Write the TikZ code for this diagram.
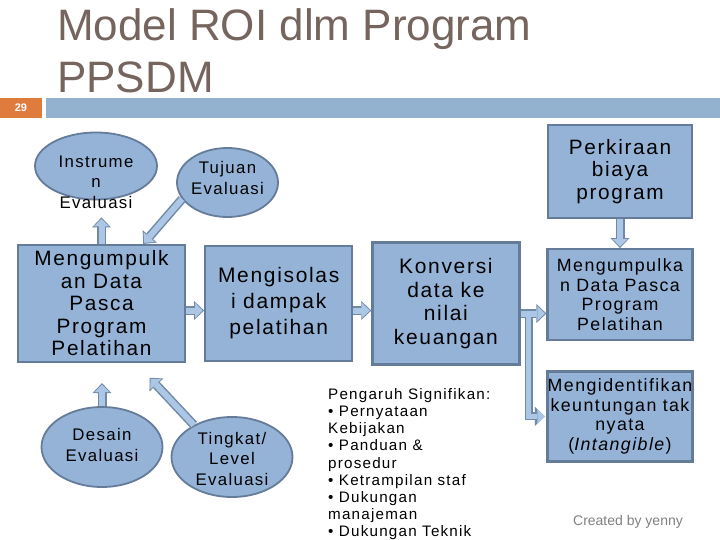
\documentclass[tikz,border=0pt]{standalone}
\usepackage{fontspec}
\setmainfont{Liberation Sans}
\newfontfamily\spacedsans[LetterSpace=8]{Liberation Sans}
\usepackage{xcolor}
\usepackage{tikz}
\usetikzlibrary{positioning,arrows.meta,shapes.geometric,calc}
\definecolor{titlegray}{RGB}{117,101,94}
\definecolor{slideorange}{RGB}{224,123,62}
\definecolor{barblue}{RGB}{147,178,207}
\definecolor{roifill}{RGB}{149,179,215}
\definecolor{roiline}{RGB}{100,124,154}
\definecolor{arrfill}{RGB}{172,199,230}
\definecolor{arrline}{RGB}{112,137,165}
\tikzset{
  box/.style={draw=roiline, line width=2.2pt, fill=roifill, align=center, inner sep=0pt, font=\spacedsans\fontsize{20.8}{22.5}\selectfont},
  smallbox/.style={box, font=\spacedsans\fontsize{17.8}{19.8}\selectfont},
  oval/.style={ellipse, draw=roiline, line width=1.8pt, fill=roifill, inner sep=0pt},
  ovaltext/.style={align=center, font=\spacedsans\fontsize{16.8}{20.5}\selectfont},
  blockarr/.style={preaction={draw=arrline, line width=9pt, -{Triangle[length=10pt, width=19pt, line width=0pt]}, shorten >=#1}, draw=arrfill, line width=6pt, -{Triangle[length=7.6pt, width=15pt, line width=0pt]}, shorten >=#1+1.5pt},
  blockarr/.default=0pt,
  elbow/.style={preaction={draw=arrline, line width=8pt, -{Triangle[length=10pt, width=19pt, line width=0pt]}}, draw=arrfill, line width=5pt, -{Triangle[length=7.6pt, width=15pt, line width=0pt]}, shorten >=1.5pt},
}
\begin{document}
\begin{tikzpicture}[x=1pt, y=-1pt]
    \useasboundingbox (0,0) rectangle (720,540);
    \clip (0,0) rectangle (720,540);
    \node[anchor=north west, align=left, inner sep=0pt, text=titlegray, font=\fontsize{44}{52}\selectfont] (title) at (57,8) {Model ROI dlm Program\\PPSDM};
    \node[fill=slideorange, minimum width=42pt, minimum height=20pt, inner sep=0pt, text=white, font=\bfseries\fontsize{11}{13}\selectfont] (pagenum) at (21,108) {29};
    \fill[barblue] (46,98) rectangle (720,118);

    \node[box, minimum width=167pt, minimum height=117pt] (mengumpul) at (101.5,303.5)
      {Mengumpulk\\an Data\\Pasca\\Program\\Pelatihan};
    \node[box, minimum width=147pt, minimum height=115pt, right=18pt of mengumpul, font=\spacedsans\fontsize{21}{26}\selectfont] (isolasi)
      {Mengisolas\\i dampak\\pelatihan};
    \node[box, minimum width=147pt, minimum height=122pt, right=18pt of isolasi, font=\spacedsans\fontsize{21}{23.5}\selectfont] (konversi)
      {Konversi\\data ke\\nilai\\keuangan};
    \node[box, minimum width=144pt, minimum height=93pt] (biaya) at (620,171.5)
      {Perkiraan\\biaya\\program};
    \node[smallbox, minimum width=145pt, minimum height=91pt, below=29pt of biaya] (kumpul2)
      {Mengumpulka\\n Data Pasca\\Program\\Pelatihan};
    \node[smallbox, minimum width=145pt, minimum height=90pt, below=29pt of kumpul2] (intangible)
      {Mengidentifikan\\keuntungan tak\\nyata\\(\textit{Intangible})};

    \node[oval, minimum width=122pt, minimum height=67pt, label={[ovaltext, yshift=-16pt]center:Instrume\\n\\Evaluasi}] (instr) at (96,166) {};
    \node[oval, minimum width=101pt, minimum height=69pt, label={[ovaltext, yshift=4.5pt]center:Tujuan\\Evaluasi}] (tujuan) at (227.5,182.5) {};
    \node[oval, minimum width=121pt, minimum height=80pt, label={[ovaltext, yshift=2pt]center:Desain\\Evaluasi}] (desain) at (102,447) {};
    \node[oval, minimum width=121pt, minimum height=80pt, label={[ovaltext, yshift=-1.5pt]center:Tingkat/\\Level\\Evaluasi}] (tingkat) at (232,457) {};

    \draw[blockarr=17pt] (mengumpul.north) -- (mengumpul.north |- instr.south);
    \draw[blockarr] (tujuan.200) -- (mengumpul.55);
    \draw[blockarr=20pt] (desain.north) -- (desain.north |- mengumpul.south);
    \draw[blockarr=20pt] (tingkat.140) -- (mengumpul.-60);
    \draw[blockarr] ([yshift=-7pt]mengumpul.east) -- ([yshift=-7pt]mengumpul.east -| isolasi.west);
    \draw[blockarr] ([yshift=-7pt]isolasi.east) -- ([yshift=-7pt]isolasi.east -| konversi.west);
    \draw[blockarr] ([yshift=-10pt]konversi.east) -- ([yshift=-10pt]konversi.east -| kumpul2.west);
    \draw[blockarr] (biaya.south) -- (biaya.south |- kumpul2.north);
    \coordinate (split) at ([xshift=8pt, yshift=-13pt]konversi.east);
    \draw[elbow] (split) |- (intangible.west);

    \node[anchor=north west, align=left, inner sep=0pt, font=\spacedsans\fontsize{15.2}{17.2}\selectfont] (pengaruh) at (328,388)
      {Pengaruh Signifikan:\\• Pernyataan\\Kebijakan\\• Panduan \&\\prosedur\\• Ketrampilan staf\\• Dukungan\\manajeman\\• Dukungan Teknik};
    \node[inner sep=0pt, text=gray, font=\fontsize{14}{16}\selectfont] (credit) at (628,522) {Created by yenny};
  \end{tikzpicture}
\end{document}
